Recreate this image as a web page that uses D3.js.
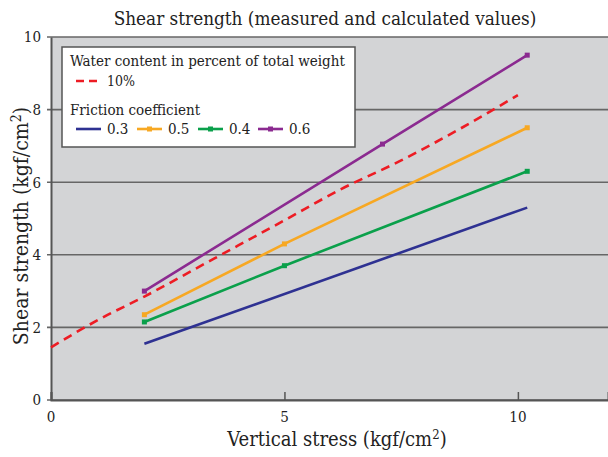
<!DOCTYPE html>
<html><head><meta charset="utf-8">
<script src="https://cdn.jsdelivr.net/npm/d3@7"></script>
<style>body{margin:0;background:#fff}svg{display:block}text{font-family:"DejaVu Serif Condensed","DejaVu Serif",serif;font-stretch:condensed;fill:#222}</style>
</head><body><svg id="c" width="608" height="457"></svg>
<script>
const xTicks=[0,5,10];
const yTicks=[0,2,4,6,8,10];
const waterX=[0,1,2,3.5,5,6.2,7.5,8.8,10];
const waterY=[1.45,2.2,2.85,3.9,4.95,5.8,6.6,7.5,8.4];
const frictionLabels=["0.3","0.5","0.4","0.6"];
const frictionColors=["#2e3192","#f7a823","#0aa04b","#8b2a90"];
const frictionX=[[2,10.2],[2,5,10.2],[2,5,10.2],[2,7.1,10.2]];
const frictionY=[[1.55,5.3],[2.35,4.3,7.5],[2.15,3.7,6.3],[3.0,7.05,9.5]];
const frictionMarkers=[false,true,true,true];

const svg=d3.select("#c");
const m={l:51,t:37,r:608,b:400};
const x=d3.scaleLinear().domain([0,11.93]).range([m.l,m.r]);
const y=d3.scaleLinear().domain([0,10]).range([m.b,m.t]);

svg.append("rect").attr("x",m.l).attr("y",m.t).attr("width",m.r-m.l).attr("height",m.b-m.t).attr("fill","#d3d4d6");
svg.append("g").selectAll("line").data(yTicks).join("line")
 .attr("x1",m.l-4).attr("x2",m.r).attr("y1",d=>y(d)).attr("y2",d=>y(d))
 .attr("stroke","#666").attr("stroke-width",1.6);
const ya=svg.append("g").attr("transform",`translate(${m.l},0)`).call(d3.axisLeft(y).tickValues(yTicks).tickSize(0).tickPadding(10));
ya.select(".domain").attr("stroke","#555").attr("stroke-width",2);
ya.selectAll("text").style("font-family",null).attr("font-size",15).attr("fill","#222");
const xa=svg.append("g").attr("transform",`translate(0,${m.b})`).call(d3.axisTop(x).tickValues(xTicks).tickSize(8).tickFormat(()=>""));
xa.select(".domain").attr("stroke","#555").attr("stroke-width",2);
xa.selectAll("line").attr("stroke","#555").attr("stroke-width",1.5);
svg.append("g").selectAll("text").data(xTicks).join("text")
 .attr("x",d=>x(d)).attr("y",m.b+22).attr("text-anchor","middle").attr("font-size",15).text(d=>d);

const line=d3.line();
frictionLabels.forEach((lab,i)=>{
  const pts=frictionX[i].map((v,j)=>[x(v),y(frictionY[i][j])]);
  svg.append("path").attr("d",line(pts)).attr("fill","none").attr("stroke",frictionColors[i]).attr("stroke-width",2.6);
  if(frictionMarkers[i]) svg.append("g").selectAll("rect").data(pts).join("rect")
   .attr("x",p=>p[0]-2.5).attr("y",p=>p[1]-2.5).attr("width",5).attr("height",5).attr("fill",frictionColors[i]);
});
svg.append("path").attr("d",d3.line().curve(d3.curveMonotoneX)(waterX.map((v,j)=>[x(v),y(waterY[j])])))
 .attr("fill","none").attr("stroke","#ed1c24").attr("stroke-width",2.6).attr("stroke-dasharray","9,6");

const lg=svg.append("g");
lg.append("rect").attr("x",62).attr("y",47).attr("width",293).attr("height",100).attr("fill","#fff").attr("stroke","#555").attr("stroke-width",1.5);
lg.append("text").attr("x",70).attr("y",66).attr("font-size",15).text("Water content in percent of total weight");
lg.append("line").attr("x1",76).attr("x2",101).attr("y1",81).attr("y2",81).attr("stroke","#ed1c24").attr("stroke-width",2.6).attr("stroke-dasharray","8,5");
lg.append("text").attr("x",107).attr("y",86).attr("font-size",14).text("10%");
lg.append("text").attr("x",70).attr("y",115).attr("font-size",15).text("Friction coefficient");
const lx=[76,137,198,258];
frictionLabels.forEach((lab,i)=>{
  lg.append("line").attr("x1",lx[i]).attr("x2",lx[i]+25).attr("y1",129).attr("y2",129).attr("stroke",frictionColors[i]).attr("stroke-width",2.6);
  if(frictionMarkers[i]) lg.append("rect").attr("x",lx[i]+10).attr("y",126.5).attr("width",5).attr("height",5).attr("fill",frictionColors[i]);
  lg.append("text").attr("x",lx[i]+31).attr("y",134).attr("font-size",15).text(lab);
});

svg.append("text").attr("x",325).attr("y",25).attr("text-anchor","middle").attr("font-size",18.8).text("Shear strength (measured and calculated values)");
const xl=svg.append("text").attr("x",337).attr("y",446).attr("text-anchor","middle").attr("font-size",20);
xl.append("tspan").text("Vertical stress (kgf/cm");
xl.append("tspan").attr("font-size",13).attr("dy",-7).text("2");
xl.append("tspan").attr("dy",7).text(")");
const yl=svg.append("text").attr("transform","translate(28,226) rotate(-90)").attr("text-anchor","middle").attr("font-size",21);
yl.append("tspan").text("Shear strength (kgf/cm");
yl.append("tspan").attr("font-size",14).attr("dy",-7).text("2");
yl.append("tspan").attr("dy",7).text(")");
</script></body></html>
